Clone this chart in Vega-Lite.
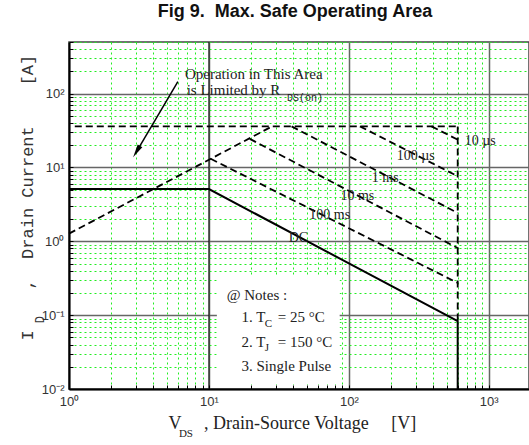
{
  "$schema": "https://vega.github.io/schema/vega-lite/v6.json",
  "width": 460,
  "height": 347,
  "autosize": "none",
  "padding": {"left": 69, "top": 42, "right": 0, "bottom": 56},
  "background": "white",
  "title": {
    "text": "Fig 9.\u00a0\u00a0Max. Safe Operating Area",
    "font": "Liberation Sans", "fontSize": 18, "fontWeight": "bold", "color": "#111",
    "frame": "group", "anchor": "middle", "offset": 1, "baseline": "alphabetic", "dx": -4
  },
  "config": {"view": {"stroke": "#444", "strokeWidth": 1.5}},
  "datasets": {
    "box": [{"x": 11.4, "x2": 86, "y": 0.344, "y2": 0.0117}],
    "lines": [
      {"s": "rds", "i": 0, "x": 1, "y": 1.27}, {"s": "rds", "i": 1, "x": 28.3, "y": 36},
      {"s": "imax", "i": 0, "x": 1.1, "y": 36}, {"s": "imax", "i": 1, "x": 600, "y": 36},
      {"s": "10us", "i": 0, "x": 390, "y": 36}, {"s": "10us", "i": 1, "x": 600, "y": 23.8},
      {"s": "100us", "i": 0, "x": 120, "y": 36}, {"s": "100us", "i": 1, "x": 600, "y": 7.6},
      {"s": "1ms", "i": 0, "x": 39, "y": 36}, {"s": "1ms", "i": 1, "x": 600, "y": 2.42},
      {"s": "10ms", "i": 0, "x": 19.6, "y": 24.4}, {"s": "10ms", "i": 1, "x": 600, "y": 0.81},
      {"s": "100ms", "i": 0, "x": 10.3, "y": 13.1}, {"s": "100ms", "i": 1, "x": 600, "y": 0.273},
      {"s": "vmax", "i": 0, "x": 600, "y": 36}, {"s": "vmax", "i": 1, "x": 600, "y": 0.083},
      {"s": "dc", "i": 0, "x": 1, "y": 5.1}, {"s": "dc", "i": 1, "x": 10, "y": 5.1},
      {"s": "dc", "i": 2, "x": 600, "y": 0.083}, {"s": "dc", "i": 3, "x": 600, "y": 0.01}
    ],
    "arrow": [{"x": 6.0, "y": 145, "x2": 3.04, "y2": 16.4}],
    "arrowhead": [{"x": 3.04, "y": 16.4}],
    "decade": [{"x": 10, "y": 0.01, "y2": 500}],
    "curveLabels": [
      {"label": "10 µs", "x": 869, "y": 22.6},
      {"label": "100 µs", "x": 301, "y": 14.5},
      {"label": "1 ms", "x": 182, "y": 7.2},
      {"label": "10 ms", "x": 115, "y": 4.07},
      {"label": "100 ms", "x": 73, "y": 2.25},
      {"label": "DC", "x": 43.6, "y": 1.11}
    ],
    "texts": [
      {"kind": "main", "label": "Operation in This Area", "x": 6.74, "y": 186.6},
      {"kind": "main", "label": "is Limited by R", "x": 6.93, "y": 113},
      {"kind": "mono", "label": "DS(on)", "x": 36.1, "y": 86.9},
      {"kind": "notes", "label": "@ Notes :", "x": 13.4, "y": 0.19},
      {"kind": "notes", "label": "1. T", "x": 17.1, "y": 0.094},
      {"kind": "notes", "label": "= 25 °C", "x": 31.1, "y": 0.094},
      {"kind": "notes", "label": "2. T", "x": 17.1, "y": 0.0438},
      {"kind": "notes", "label": "= 150 °C", "x": 31.1, "y": 0.0438},
      {"kind": "notes", "label": "3. Single Pulse", "x": 17.1, "y": 0.0207},
      {"kind": "sub", "label": "C", "x": 25.1, "y": 0.0769},
      {"kind": "sub", "label": "J", "x": 25.1, "y": 0.0363},
      {"kind": "sub", "label": "DS", "x": 6.1, "y": 0.00249}
    ],
    "ysub": [{"label": "D", "x": 0.62, "y": 0.087}]
  },
  "encoding": {
    "x": {
      "field": "x", "type": "quantitative",
      "scale": {"type": "log", "domain": [1, 1940], "nice": false},
      "axis": {
        "values": [1,2,3,4,5,6,7,8,9,10,20,30,40,50,60,70,80,90,100,200,300,400,500,600,700,800,900,1000],
        "labelExpr": "datum.value == 1 ? '10⁰' : datum.value == 10 ? '10¹' : datum.value == 100 ? '10²' : datum.value == 1000 ? '10³' : ''",
        "labelFlush": false, "labelOverlap": false,
        "labelFont": "Liberation Sans", "labelFontSize": 13, "labelColor": "#333", "labelPadding": 10,
        "grid": true,
        "gridColor": {"condition": {"test": "indexof([1,10,100,1000], datum.value) >= 0", "value": "#666"}, "value": "#22ee22"},
        "gridDash": {"condition": {"test": "indexof([1,10,100,1000], datum.value) >= 0", "value": [1, 0]}, "value": [2, 3]},
        "gridWidth": {"condition": {"test": "indexof([1,10,100,1000], datum.value) >= 0", "value": 1.5}, "value": 1},
        "tickSize": -4, "tickColor": "#000", "tickWidth": 1,
        "domainColor": "#000", "domainWidth": 2,
        "title": "V\u00a0\u00a0\u00a0\u00a0\u00a0, Drain-Source Voltage\u00a0\u00a0\u00a0\u00a0\u00a0[V]",
        "titleFont": "Liberation Serif", "titleFontSize": 18, "titleFontWeight": "normal", "titleColor": "#222",
        "titleX": 99, "titleY": 39, "titleAlign": "left", "titleAnchor": "start", "titleBaseline": "alphabetic"
      }
    },
    "y": {
      "field": "y", "type": "quantitative",
      "scale": {"type": "log", "domain": [0.01, 500], "nice": false},
      "axis": {
        "values": [0.01,0.02,0.03,0.04,0.05,0.06,0.07,0.08,0.09,0.1,0.2,0.3,0.4,0.5,0.6,0.7,0.8,0.9,1,2,3,4,5,6,7,8,9,10,20,30,40,50,60,70,80,90,100,200,300,400,500],
        "labelExpr": "datum.value == 0.01 ? '10⁻²' : datum.value == 0.1 ? '10⁻¹' : datum.value == 1 ? '10⁰' : datum.value == 10 ? '10¹' : datum.value == 100 ? '10²' : ''",
        "labelOverlap": false, "labelFlush": false,
        "labelFont": "Liberation Sans", "labelFontSize": 13, "labelColor": "#333", "labelPadding": 9,
        "grid": true,
        "gridColor": {"condition": {"test": "indexof([0.01,0.1,1,10,100], datum.value) >= 0", "value": "#666"}, "value": "#22ee22"},
        "gridDash": {"condition": {"test": "indexof([0.01,0.1,1,10,100], datum.value) >= 0", "value": [1, 0]}, "value": [2, 3]},
        "gridWidth": {"condition": {"test": "indexof([0.01,0.1,1,10,100], datum.value) >= 0", "value": 1.5}, "value": 1},
        "tickSize": -4, "tickColor": "#000", "tickWidth": 1,
        "domainColor": "#000", "domainWidth": 2,
        "title": "I\u00a0\u00a0\u00a0\u00a0,\u00a0\u00a0Drain Current\u00a0\u00a0\u00a0\u00a0[A]",
        "titleFont": "Liberation Mono", "titleFontSize": 17, "titleFontWeight": "normal", "titleColor": "#333",
        "titleX": -37, "titleY": 298, "titleAngle": 270, "titleAlign": "left", "titleBaseline": "alphabetic"
      }
    }
  },
  "layer": [
    {
      "data": {"name": "box"},
      "mark": {"type": "rect", "fill": "white"},
      "encoding": {"x2": {"field": "x2"}, "y2": {"field": "y2"}}
    },
    {
      "data": {"name": "decade"},
      "mark": {"type": "rule", "color": "#111", "strokeWidth": 1},
      "encoding": {"y2": {"field": "y2"}}
    },
    {
      "data": {"name": "lines"},
      "transform": [{"filter": "datum.s != 'dc'"}],
      "mark": {"type": "line", "color": "#000", "strokeWidth": 1.8, "strokeDash": [7, 4], "strokeCap": "butt"},
      "encoding": {"detail": {"field": "s"}, "order": {"field": "i"}}
    },
    {
      "data": {"name": "lines"},
      "transform": [{"filter": "datum.s == 'dc'"}],
      "mark": {"type": "line", "color": "#000", "strokeWidth": 2},
      "encoding": {"order": {"field": "i"}}
    },
    {
      "data": {"name": "arrow"},
      "mark": {"type": "rule", "color": "#000", "strokeWidth": 1.5},
      "encoding": {"x2": {"field": "x2"}, "y2": {"field": "y2"}}
    },
    {
      "data": {"name": "arrowhead"},
      "mark": {"type": "point", "shape": "M0,-1L0.4,1L-0.4,1Z", "filled": true, "color": "#000", "opacity": 1, "size": 180, "angle": 210.7},
      "encoding": {}
    },
    {
      "data": {"name": "curveLabels"},
      "mark": {"type": "text", "font": "Liberation Serif", "fontSize": 14, "color": "#222", "align": "center", "baseline": "middle"},
      "encoding": {"text": {"field": "label"}}
    },
    {
      "data": {"name": "texts"},
      "transform": [{"filter": "datum.kind == 'main' || datum.kind == 'notes'"}],
      "mark": {"type": "text", "font": "Liberation Serif", "fontSize": 15, "color": "#222", "align": "left", "baseline": "middle"},
      "encoding": {"text": {"field": "label"}}
    },
    {
      "data": {"name": "texts"},
      "transform": [{"filter": "datum.kind == 'mono'"}],
      "mark": {"type": "text", "font": "Liberation Mono", "fontSize": 10, "color": "#222", "align": "left", "baseline": "middle"},
      "encoding": {"text": {"field": "label"}}
    },
    {
      "data": {"name": "texts"},
      "transform": [{"filter": "datum.kind == 'sub'"}],
      "mark": {"type": "text", "font": "Liberation Serif", "fontSize": 11, "color": "#222", "align": "left", "baseline": "middle"},
      "encoding": {"text": {"field": "label"}}
    },
    {
      "data": {"name": "ysub"},
      "mark": {"type": "text", "font": "Liberation Mono", "fontSize": 12, "color": "#333", "align": "center", "baseline": "middle", "angle": 270},
      "encoding": {"text": {"field": "label"}}
    }
  ]
}
